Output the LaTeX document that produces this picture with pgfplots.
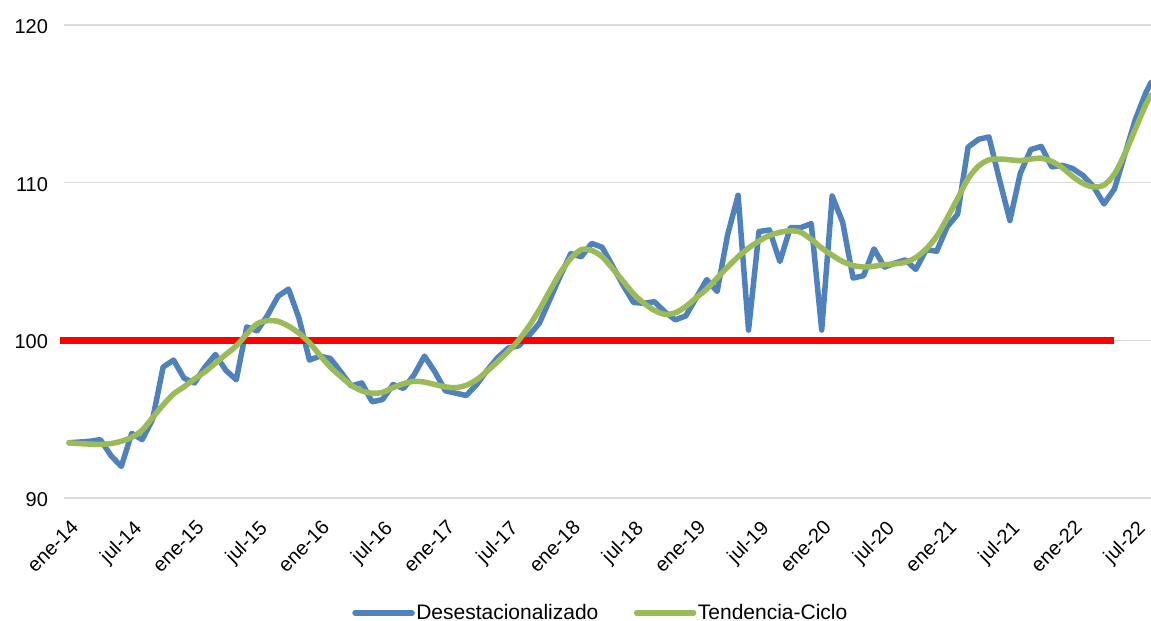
\documentclass[border=0pt]{standalone}
\usepackage{fontspec}
\setmainfont{Liberation Sans}
\usepackage{pgfplots}
\pgfplotsset{compat=1.18}
\definecolor{serblue}{RGB}{79,129,189}
\definecolor{sergreen}{RGB}{155,187,89}
\definecolor{gridgray}{RGB}{217,217,217}
\begin{document}
\begin{tikzpicture}
\begin{axis}[
 scale only axis, width=1087bp, height=473bp,
 xmin=-0.48, xmax=103.5, ymin=90, ymax=120,
 ytick={90,100,110,120},
 xtick={0,6,...,102},
 xticklabels={ene-14,jul-14,ene-15,jul-15,ene-16,jul-16,ene-17,jul-17,ene-18,jul-18,ene-19,jul-19,ene-20,jul-20,ene-21,jul-21,ene-22,jul-22},
 axis line style={draw=none},
 ymajorgrids, grid style={gridgray, line width=1.5bp},
 major tick length=0pt,
 tick label style={font=\fontsize{20bp}{24bp}\selectfont, text=black},
 /pgf/number format/assume math mode=true,
 yticklabel style={anchor=east, xshift=-12.5bp, yshift=-1.5bp},
 xticklabel style={rotate=45, anchor=north east, xshift=-11bp, yshift=-12bp},
 clip=false,
 legend style={at={(0.4936,-0.243)}, anchor=center, draw=none, fill=none,
   legend columns=2, font=\fontsize{21bp}{25bp}\selectfont,
   /tikz/every even column/.append style={column sep=34bp},
   nodes={inner sep=1.5bp}},
 legend image code/.code={\draw[#1,line width=5.5bp] (0bp,0bp) -- (57bp,0bp);},
]
\addplot[serblue, line width=5.5bp, line join=round, line cap=round] coordinates {
(0,93.5)(1,93.55)(2,93.6)(3,93.7)(4,92.7)(5,92.0)(6,94.1)(7,93.7)(8,95.0)(9,98.3)
(10,98.75)(11,97.6)(12,97.3)(13,98.3)(14,99.1)(15,98.1)(16,97.5)(17,100.85)(18,100.6)(19,101.6)
(20,102.8)(21,103.25)(22,101.4)(23,98.75)(24,99.0)(25,98.85)(26,98.0)(27,97.1)(28,97.3)(29,96.1)
(30,96.25)(31,97.2)(32,96.95)(33,97.8)(34,99.0)(35,98.0)(36,96.8)(37,96.65)(38,96.5)(39,97.2)
(40,98.1)(41,98.9)(42,99.5)(43,99.65)(44,100.3)(45,101.1)(46,102.6)(47,104.1)(48,105.5)(49,105.3)
(50,106.15)(51,105.9)(52,104.7)(53,103.5)(54,102.4)(55,102.35)(56,102.45)(57,101.8)(58,101.3)(59,101.55)
(60,102.7)(61,103.85)(62,103.1)(63,106.7)(64,109.2)(65,100.65)(66,106.9)(67,107.0)(68,105.0)(69,107.15)
(70,107.15)(71,107.4)(72,100.65)(73,109.15)(74,107.5)(75,103.95)(76,104.1)(77,105.8)(78,104.65)(79,104.9)
(80,105.1)(81,104.5)(82,105.75)(83,105.65)(84,107.2)(85,108.0)(86,112.25)(87,112.75)(88,112.9)(89,110.2)
(90,107.6)(91,110.6)(92,112.1)(93,112.3)(94,111.0)(95,111.1)(96,110.9)(97,110.45)(98,109.75)(99,108.65)
(100,109.6)(101,111.8)(102,114.0)(103,115.7)(103.5,116.35)
};
\addlegendentry{Desestacionalizado}
\addplot[red, line width=7.5bp, forget plot] coordinates {(-0.86,100) (100,100)};
\addplot[sergreen, line width=5.5bp, smooth, line join=round, line cap=round] coordinates {
(0,93.5)(1,93.45)(2,93.42)(3,93.4)(4,93.45)(5,93.6)(6,93.85)(7,94.3)(8,95.1)(9,95.9)
(10,96.6)(11,97.05)(12,97.55)(13,98.0)(14,98.55)(15,99.1)(16,99.65)(17,100.4)(18,101.05)(19,101.25)
(20,101.2)(21,100.9)(22,100.45)(23,99.85)(24,99.05)(25,98.3)(26,97.7)(27,97.15)(28,96.8)(29,96.65)
(30,96.7)(31,97.0)(32,97.25)(33,97.4)(34,97.35)(35,97.2)(36,97.05)(37,97.0)(38,97.15)(39,97.5)
(40,98.05)(41,98.65)(42,99.3)(43,100.0)(44,100.9)(45,101.95)(46,103.15)(47,104.3)(48,105.2)(49,105.75)
(50,105.7)(51,105.3)(52,104.55)(53,103.75)(54,102.95)(55,102.35)(56,101.9)(57,101.65)(58,101.75)(59,102.15)
(60,102.7)(61,103.25)(62,103.95)(63,104.65)(64,105.3)(65,105.85)(66,106.3)(67,106.65)(68,106.85)(69,106.95)
(70,106.85)(71,106.4)(72,105.85)(73,105.4)(74,105.0)(75,104.75)(76,104.65)(77,104.7)(78,104.8)(79,104.85)
(80,104.95)(81,105.25)(82,105.8)(83,106.6)(84,107.75)(85,109.0)(86,110.25)(87,111.05)(88,111.45)(89,111.5)
(90,111.45)(91,111.4)(92,111.5)(93,111.55)(94,111.35)(95,110.95)(96,110.4)(97,109.95)(98,109.73)(99,109.85)
(100,110.55)(101,111.85)(102,113.4)(103,114.95)(103.5,115.55)
};
\addlegendentry{Tendencia-Ciclo}
\end{axis}
\pgfresetboundingbox
\path[use as bounding box] ([xshift=-64bp,yshift=-123bp]current axis.south west) rectangle ([yshift=25bp]current axis.north east);
\end{tikzpicture}
\end{document}
